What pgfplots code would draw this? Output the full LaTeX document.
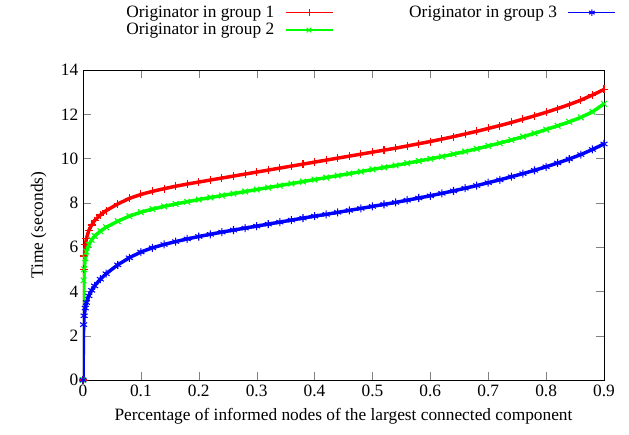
\documentclass[border=0pt]{standalone}
\usepackage{pgfplots}
\pgfplotsset{compat=1.18}
\usepackage{fontspec}
\setmainfont{Liberation Serif}
\usetikzlibrary{calc}

\pgfplotstableread{
x y
0 0
0.001 5.0
0.002 5.6
0.004 6.1
0.006 6.4
0.01 6.75
0.015 7.0
0.02 7.2
0.03 7.45
0.04 7.65
0.06 7.95
0.08 8.2
0.10 8.38
0.12 8.52
0.14 8.64
0.16 8.75
0.18 8.85
0.20 8.94
0.22 9.03
0.24 9.12
0.26 9.21
0.28 9.30
0.30 9.39
0.32 9.48
0.34 9.57
0.36 9.66
0.38 9.75
0.40 9.84
0.42 9.93
0.44 10.02
0.46 10.11
0.48 10.20
0.50 10.29
0.52 10.38
0.54 10.47
0.56 10.57
0.58 10.67
0.60 10.77
0.62 10.88
0.64 10.99
0.66 11.11
0.68 11.23
0.70 11.36
0.72 11.49
0.74 11.63
0.76 11.78
0.78 11.93
0.80 12.09
0.82 12.26
0.84 12.44
0.86 12.64
0.88 12.87
0.90 13.12
}\groupone

\pgfplotstableread{
x y
0 0
0.001 4.5
0.002 5.0
0.004 5.5
0.006 5.8
0.01 6.1
0.015 6.33
0.02 6.5
0.03 6.72
0.04 6.9
0.06 7.17
0.08 7.4
0.10 7.58
0.12 7.72
0.14 7.84
0.16 7.95
0.18 8.05
0.20 8.15
0.22 8.24
0.24 8.33
0.26 8.42
0.28 8.51
0.30 8.60
0.32 8.69
0.34 8.78
0.36 8.87
0.38 8.96
0.40 9.05
0.42 9.14
0.44 9.23
0.46 9.32
0.48 9.41
0.50 9.51
0.52 9.60
0.54 9.69
0.56 9.79
0.58 9.89
0.60 9.99
0.62 10.09
0.64 10.20
0.66 10.32
0.68 10.44
0.70 10.57
0.72 10.70
0.74 10.84
0.76 10.99
0.78 11.14
0.80 11.31
0.82 11.48
0.84 11.66
0.86 11.86
0.88 12.11
0.90 12.47
}\grouptwo

\pgfplotstableread{
x y
0 0
0.001 2.5
0.002 2.9
0.004 3.25
0.006 3.5
0.01 3.8
0.015 4.05
0.02 4.25
0.03 4.55
0.04 4.8
0.06 5.2
0.08 5.52
0.10 5.78
0.12 5.97
0.14 6.12
0.16 6.25
0.18 6.37
0.20 6.48
0.22 6.58
0.24 6.68
0.26 6.77
0.28 6.86
0.30 6.95
0.32 7.04
0.34 7.13
0.36 7.22
0.38 7.31
0.40 7.40
0.42 7.48
0.44 7.57
0.46 7.66
0.48 7.75
0.50 7.84
0.52 7.93
0.54 8.02
0.56 8.12
0.58 8.22
0.60 8.32
0.62 8.43
0.64 8.54
0.66 8.66
0.68 8.78
0.70 8.91
0.72 9.04
0.74 9.18
0.76 9.32
0.78 9.47
0.80 9.63
0.82 9.80
0.84 9.98
0.86 10.18
0.88 10.41
0.90 10.66
}\groupthree

\begin{document}
\begin{tikzpicture}
\begin{axis}[
  scale only axis,
  width=390.75pt, height=232.5pt,
  xmin=0, xmax=0.9, ymin=0, ymax=14,
  xtick={0,0.1,...,0.9},
  ytick={0,2,...,14},
  xticklabel style={/pgf/number format/fixed},
  /pgf/number format/assume math mode=true,
  tick label style={font=\fontsize{13}{15}\selectfont},
  label style={font=\fontsize{13}{15}\selectfont},
  xlabel={Percentage of informed nodes of the largest connected component},
  ylabel={Time (seconds)},
  xlabel style={yshift=-2pt},
  ylabel style={yshift=4pt},
  tick align=inside,
  major tick length=6pt,
  axis line style={line width=0.7pt},
  legend columns=2,
  legend plot pos=right,
  legend cell align=right,
  legend style={draw=none, fill=none, at={(rel axis cs:0.07,1.225)}, anchor=north west,
    font=\fontsize{13}{13}\selectfont, row sep=-1pt,
    /tikz/every odd column/.append style={column sep=6pt},
    /tikz/every even column/.append style={column sep=55pt}},
  legend image code/.code={\draw[mark repeat=2,mark phase=2,#1,line width=1pt,mark options={line width=0.8pt,scale=0.8}] plot coordinates {(0cm,0cm) (0.62cm,0cm) (1.24cm,0cm)};},
  every axis plot/.append style={line width=2.6pt, mark size=3pt, mark options={line width=0.8pt}},
]
\addplot[red, mark=+, forget plot] table {\groupone};
\addplot[green, mark=x, forget plot] table {\grouptwo};
\addplot[blue, mark=asterisk, forget plot] table {\groupthree};
\addlegendimage{red, mark=+}
\addlegendentry{Originator in group 1}
\addlegendimage{blue, mark=asterisk}
\addlegendentry{Originator in group 3}
\addlegendimage{green, mark=x}
\addlegendentry{Originator in group 2}
\coordinate (ll) at (rel axis cs:0,0);
\end{axis}
\pgfresetboundingbox
\path ($(ll)+(-62.25pt,-41.25pt)$) rectangle ($(ll)+(409.5pt,285pt)$);
\end{tikzpicture}
\end{document}
